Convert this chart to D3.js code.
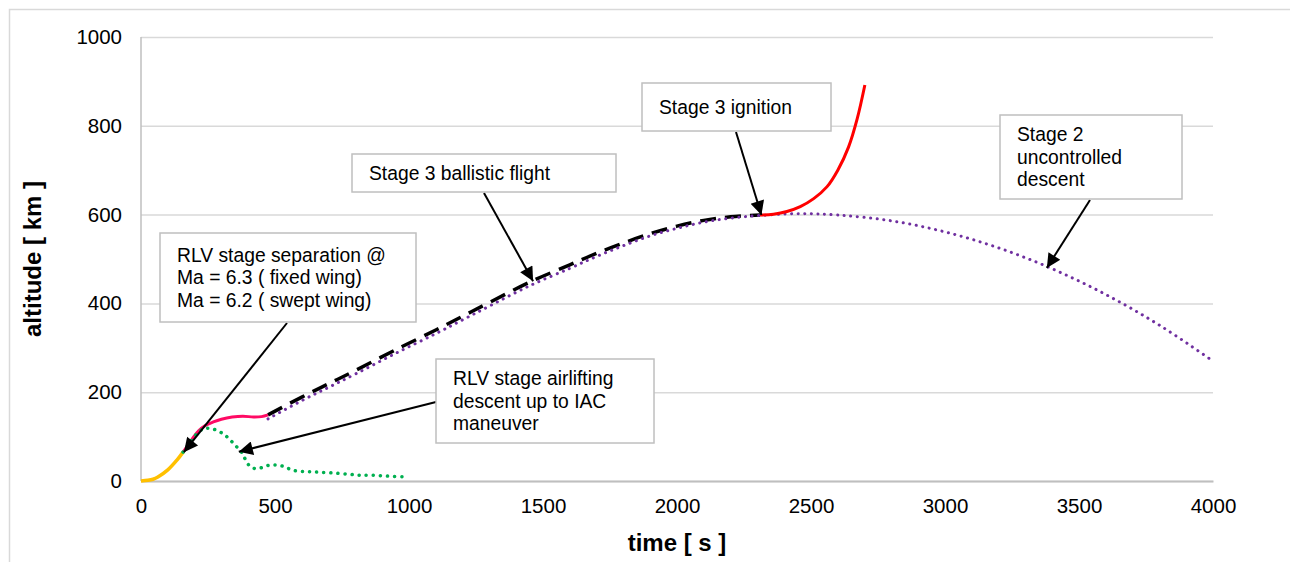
<!DOCTYPE html>
<html>
<head>
<meta charset="utf-8">
<script src="https://cdn.jsdelivr.net/npm/d3@7"></script>
<style>
  body { margin: 0; background: #fff; }
  text { font-family: "Liberation Sans", Arial, sans-serif; fill: #000; }
</style>
</head>
<body>
<script>
"use strict";

//Tick values
const xTicks = [0, 500, 1000, 1500, 2000, 2500, 3000, 3500, 4000];
const yTicks = [0, 200, 400, 600, 800, 1000];

//Stage 1 ascent (orange)
const ascentTime = [0, 26, 45, 63, 100, 134, 157];
const ascentAlt = [0, 1.5, 4, 9, 25, 47, 65];

//RLV / upper stage climb after separation (pink)
const climbTime = [157, 175, 195, 215, 240, 270, 300, 340, 380, 420, 450, 474];
const climbAlt = [65, 80, 98, 113, 125, 133, 139, 144, 146, 144, 145, 149];

//Stage 3 ballistic flight (black dashed)
const ballisticTime = [474, 600, 700, 800, 955, 1100, 1200, 1300, 1451, 1600, 1701, 1800, 1900, 2000, 2100, 2200, 2310];
const ballisticAlt = [149, 189, 219, 249, 297, 340, 371, 402, 448, 487, 513, 536, 557, 574, 587, 595, 599];

//Stage 2 uncontrolled descent (purple dotted)
const descentTime = [474, 600, 700, 800, 955, 1100, 1200, 1300, 1451, 1600, 1701, 1800, 1900, 2000, 2100, 2200, 2310, 2450, 2600, 2800, 3000, 3200, 3400, 3600, 3800, 4000];
const descentAlt = [140, 181, 211, 241, 289, 332, 363, 394, 440, 479, 506, 530, 552, 569, 583, 592, 598, 602, 599, 586, 561, 525, 478, 420, 351, 270];

//Stage 3 ignition (red)
const ignitionTime = [2310, 2360, 2410, 2460, 2510, 2560, 2600, 2640, 2672, 2701];
const ignitionAlt = [599, 601, 607, 618, 636, 663, 700, 752, 815, 892];

//RLV airlifting descent (green dotted)
const rlvTime = [157, 180, 205, 228, 250, 275, 302, 322, 340, 360, 377, 390, 405, 425, 450, 474, 500, 526, 550, 575, 620, 660, 720, 780, 820, 860, 920, 992];
const rlvAlt = [65, 84, 104, 116, 119, 116, 108, 99, 88, 75, 63, 48, 34, 28, 30, 35, 36, 34, 28, 23, 21, 20, 18, 15, 13, 13, 11, 9];

//Callouts: text lines and arrow target in data units
const calloutLines = [
  ["RLV stage separation @", "Ma = 6.3 ( fixed wing)", "Ma = 6.2 ( swept wing)"],
  ["Stage 3 ballistic flight"],
  ["RLV stage airlifting", "descent up to IAC", "maneuver"],
  ["Stage 3 ignition"],
  ["Stage 2", "uncontrolled", "descent"]
];
const calloutTargetTime = [160, 1463, 365, 2315, 3380];
const calloutTargetAlt = [65, 450, 66, 599, 480];

//SVG dimensions
const w = 1290;
const h = 562;
const margin = { top: 37, right: 77, bottom: 81, left: 141 };

const svg = d3.select("body").append("svg").attr("width", w).attr("height", h);

//Outer chart border
svg
  .append("rect")
  .attr("x", 9.5)
  .attr("y", 9.5)
  .attr("width", w + 20)
  .attr("height", h + 20)
  .attr("fill", "none")
  .attr("stroke", "#d9d9d9")
  .attr("stroke-width", 1.5);

//x scale and axis
const xScale = d3
  .scaleLinear()
  .domain([0, 4000])
  .range([margin.left, w - margin.right]);
const xAxis = d3
  .axisBottom(xScale)
  .tickValues(xTicks)
  .tickFormat(d3.format("d"))
  .tickSize(0)
  .tickPadding(17);

//y scale and axis
const yScale = d3
  .scaleLinear()
  .domain([0, 1000])
  .range([h - margin.bottom, margin.top]);
const yAxis = d3
  .axisLeft(yScale)
  .tickValues(yTicks)
  .tickFormat(d3.format("d"))
  .tickSize(-(w - margin.left - margin.right))
  .tickPadding(19);

//Gridlines + y labels
svg
  .append("g")
  .attr("transform", `translate(${margin.left}, 0)`)
  .call(yAxis)
  .call((g) => g.select(".domain").remove())
  .call((g) => g.selectAll(".tick line").attr("stroke", "#d9d9d9").attr("stroke-width", 1.5))
  .call((g) => g.selectAll(".tick text").style("font-size", "20.5px").attr("fill", "#000"));

//Left axis line
svg
  .append("line")
  .attr("x1", xScale(0))
  .attr("x2", xScale(0))
  .attr("y1", yScale(1000))
  .attr("y2", yScale(0))
  .attr("stroke", "#bfbfbf")
  .attr("stroke-width", 1.5);

//x axis
svg
  .append("g")
  .attr("transform", `translate(0, ${yScale(0)})`)
  .call(xAxis)
  .call((g) => g.select(".domain").attr("stroke", "#bfbfbf").attr("stroke-width", 2))
  .call((g) => g.selectAll(".tick text").style("font-size", "20.5px").attr("fill", "#000"));

//Axis titles
svg
  .append("text")
  .attr("x", (xScale(0) + xScale(4000)) / 2)
  .attr("y", 551)
  .attr("text-anchor", "middle")
  .style("font-size", "24px")
  .style("font-weight", "bold")
  .text("time [ s ]");

svg
  .append("text")
  .attr("transform", `translate(41, ${(yScale(0) + yScale(1000)) / 2}) rotate(-90)`)
  .attr("text-anchor", "middle")
  .style("font-size", "24px")
  .style("font-weight", "bold")
  .text("altitude [ km ]");

const line = d3
  .line()
  .x((d) => xScale(d[0]))
  .y((d) => yScale(d[1]))
  .curve(d3.curveCatmullRom.alpha(0.5));

const zip = (ts, vs) => ts.map((t, i) => [t, vs[i]]);

const plot = svg.append("g").attr("fill", "none");

//Adds series
plot.append("path").attr("d", line(zip(ascentTime, ascentAlt))).attr("stroke", "#ffc000").attr("stroke-width", 3.5);
plot.append("path").attr("d", line(zip(climbTime, climbAlt))).attr("stroke", "#ff0a64").attr("stroke-width", 3);
plot
  .append("path")
  .attr("d", line(zip(ballisticTime, ballisticAlt)))
  .attr("stroke", "#000")
  .attr("stroke-width", 3.5)
  .attr("stroke-dasharray", "16 9");
plot
  .append("path")
  .attr("d", line(zip(descentTime, descentAlt)))
  .attr("stroke", "#7030a0")
  .attr("stroke-width", 3)
  .attr("stroke-linecap", "round")
  .attr("stroke-dasharray", "0.1 6.5");
plot.append("path").attr("d", line(zip(ignitionTime, ignitionAlt))).attr("stroke", "#ff0000").attr("stroke-width", 3);
plot
  .append("path")
  .attr("d", line(zip(rlvTime, rlvAlt)))
  .attr("stroke", "#00b050")
  .attr("stroke-width", 3.5)
  .attr("stroke-linecap", "round")
  .attr("stroke-dasharray", "0.1 7");

//Arrowhead marker
svg
  .append("defs")
  .append("marker")
  .attr("id", "arrow")
  .attr("viewBox", "0 0 10 10")
  .attr("refX", 10)
  .attr("refY", 5)
  .attr("markerUnits", "userSpaceOnUse")
  .attr("markerWidth", 17)
  .attr("markerHeight", 14)
  .attr("orient", "auto")
  .append("path")
  .attr("d", "M0,0 L10,5 L0,10 Z")
  .attr("fill", "#000");

//Callout boxes (pixel layout only)
const boxes = [
  { x: 160, y: 233, w: 256, h: 89, from: [287, 323] },
  { x: 352, y: 154, w: 264, h: 38, from: [484, 193] },
  { x: 436, y: 359, w: 218, h: 84, from: [436, 402] },
  { x: 642, y: 83, w: 189, h: 48, from: [736, 132] },
  { x: 1000, y: 115, w: 182, h: 84, from: [1090, 200] }
];

boxes.forEach((b, i) => {
  svg
    .append("line")
    .attr("x1", b.from[0])
    .attr("y1", b.from[1])
    .attr("x2", xScale(calloutTargetTime[i]))
    .attr("y2", yScale(calloutTargetAlt[i]))
    .attr("stroke", "#000")
    .attr("stroke-width", 2)
    .attr("marker-end", "url(#arrow)");

  svg
    .append("rect")
    .attr("x", b.x)
    .attr("y", b.y)
    .attr("width", b.w)
    .attr("height", b.h)
    .attr("fill", "#fff")
    .attr("stroke", "#bfbfbf")
    .attr("stroke-width", 1.5);

  const lines = calloutLines[i];
  const lineH = 22.5;
  const top = b.y + b.h / 2 - ((lines.length - 1) * lineH) / 2;
  svg
    .append("text")
    .attr("x", b.x + 17)
    .style("font-size", "19.3px")
    .selectAll("tspan")
    .data(lines)
    .enter()
    .append("tspan")
    .attr("x", b.x + 17)
    .attr("y", (d, j) => top + j * lineH)
    .attr("dy", "0.35em")
    .text((d) => d);
});
</script>
</body>
</html>
